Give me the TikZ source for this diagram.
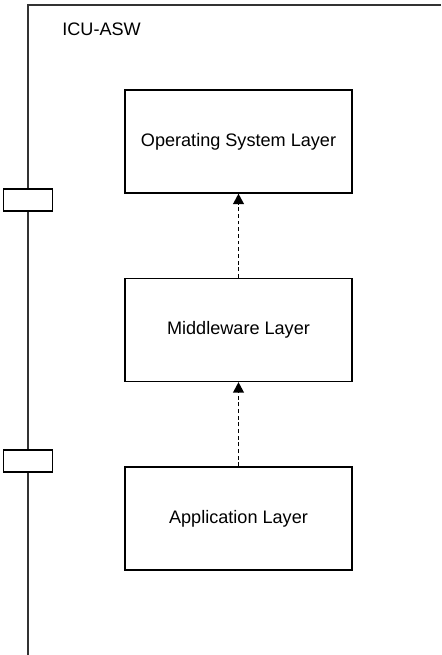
\documentclass[tikz,border=0pt]{standalone}
\usepackage{fontspec}
\setmainfont{Liberation Sans}
\usepackage{tikz}
\usetikzlibrary{arrows.meta,positioning}

\begin{document}
\begin{tikzpicture}[x=0.02cm,y=-0.02cm,
    layer/.style={draw,line width=0.75pt,minimum width=4.54cm,minimum height=2.06cm,
                  font=\fontsize{10.3}{12}\selectfont},
    port/.style={draw,fill=white,line width=0.75pt,minimum width=0.98cm,minimum height=0.44cm,inner sep=0pt},
    dep/.style={-{Triangle[length=6pt,width=6.2pt]},line width=0.8pt,dash pattern=on 2.2pt off 1.6pt}]
    \useasboundingbox (0,0) rectangle (441,655);
    % component frame, open to the right and below
    \draw[line width=0.9pt,black!80] (441,5) -- (28,5) -- (28,655);
    \node[anchor=base west,inner sep=0pt,font=\fontsize{10.3}{12}\selectfont] (title) at (62,36) {ICU-ASW};
    \foreach \y/\n in {200/1,461/2}{\node[port] (port\n) at (28,\y) {};}
    % the three layers
    \node[layer] (os) at (238.5,141.5) {Operating System Layer};
    \node[layer] (mw) at (238.5,330) {Middleware Layer};
    \node[layer] (app) at (238.5,518.5) {Application Layer};
    \draw[dep] (app) -- (mw);
    \draw[dep] (mw) -- (os);
\end{tikzpicture}
\end{document}
